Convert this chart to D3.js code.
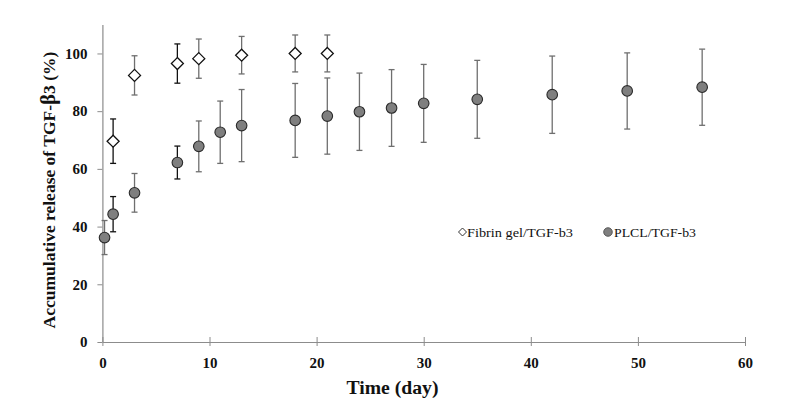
<!DOCTYPE html>
<html><head><meta charset="utf-8">
<script src="https://cdn.jsdelivr.net/npm/d3@7"></script>
<style>body{margin:0;background:#fff}svg{display:block}</style>
</head><body>
<script>
// Data
const fibrinDays = [1, 3, 7, 9, 13, 18, 21];
const fibrinMean = [69.6, 92.4, 96.5, 98.2, 99.4, 100, 100];
const fibrinErr  = [7.7, 6.8, 6.8, 6.8, 6.5, 6.4, 6.4];
const plclDays = [0.2, 1, 3, 7, 9, 11, 13, 18, 21, 24, 27, 30, 35, 42, 49, 56];
const plclMean = [36.2, 44.3, 51.7, 62.2, 67.8, 72.7, 75.0, 76.8, 78.3, 79.8, 81.1, 82.7, 84.1, 85.7, 87.0, 88.3];
const plclErr  = [5.9, 6.1, 6.7, 5.7, 8.8, 10.8, 12.5, 12.8, 13.2, 13.4, 13.3, 13.5, 13.5, 13.4, 13.2, 13.2];
const xTicks = [0, 10, 20, 30, 40, 50, 60];
const yTicks = [0, 20, 40, 60, 80, 100];
const seriesNames = ["Fibrin gel/TGF-b3", "PLCL/TGF-b3"];

const W = 802, H = 412;
const svg = d3.select("body").append("svg").attr("width", W).attr("height", H);
const x = d3.scaleLinear().domain([0, 60]).range([102.4, 745]);
const y = d3.scaleLinear().domain([0, 110]).range([342, 24.6]);
const axisColor = "#8c8c8c";
const font = "'Liberation Serif','Times New Roman',serif";

// Axes
const gx = svg.append("g").attr("transform", `translate(0,${y(0)})`)
  .call(d3.axisBottom(x).tickValues(xTicks).tickSize(5).tickSizeOuter(0).tickPadding(10));
const gy = svg.append("g").attr("transform", `translate(${x(0)},0)`)
  .call(d3.axisLeft(y).tickValues(yTicks).tickSize(5).tickSizeOuter(0).tickPadding(10));
[gx, gy].forEach(g => {
  g.select(".domain").attr("stroke", axisColor).attr("stroke-width", 1.2);
  g.selectAll(".tick line").attr("stroke", axisColor);
  g.selectAll(".tick text").attr("fill", "#111").style("font-family", font)
    .style("font-weight", "bold").style("font-size", "15px");
});
gx.selectAll(".tick line").attr("y1", -5).attr("y2", 4);

// Titles
svg.append("text").attr("x", 392.5).attr("y", 394).attr("text-anchor", "middle")
  .attr("textLength", 92).attr("lengthAdjust", "spacingAndGlyphs")
  .style("font-family", font).style("font-weight", "bold").style("font-size", "18px")
  .attr("fill", "#111").text("Time (day)");
svg.append("text").attr("transform", "translate(55,190) rotate(-90)").attr("text-anchor", "middle")
  .style("font-family", font).style("font-weight", "bold").style("font-size", "17.5px")
  .attr("fill", "#111")
  .html('Accumulative release of TGF-<tspan style="font-size:21px">β</tspan>3 (%)');

const darkDays = new Set([1, 7]);
function errorBars(days, mean, err) {
  const g = svg.append("g");
  days.forEach((d, i) => {
    const c = darkDays.has(d) ? "#111" : "#6f6f6f";
    const cx = x(d), y1 = y(mean[i] + err[i]), y2 = y(mean[i] - err[i]);
    g.append("line").attr("x1", cx).attr("x2", cx).attr("y1", y1).attr("y2", y2)
      .attr("stroke", c).attr("stroke-width", 1.3);
    [y1, y2].forEach(yy => g.append("line").attr("x1", cx - 3).attr("x2", cx + 3)
      .attr("y1", yy).attr("y2", yy).attr("stroke", c).attr("stroke-width", 1.3));
  });
}
errorBars(plclDays, plclMean, plclErr);
errorBars(fibrinDays, fibrinMean, fibrinErr);

// PLCL circles
svg.append("g").selectAll("circle").data(plclDays).join("circle")
  .attr("cx", d => x(d)).attr("cy", (d, i) => y(plclMean[i])).attr("r", 5.3)
  .attr("fill", "#7f7f7f").attr("stroke", "#2a2a2a").attr("stroke-width", 1.1);

// Fibrin diamonds
const diamond = s => `M0,${-s}L${s},0L0,${s}L${-s},0Z`;
svg.append("g").selectAll("path").data(fibrinDays).join("path")
  .attr("transform", (d, i) => `translate(${x(d)},${y(fibrinMean[i])})`)
  .attr("d", diamond(6)).attr("fill", "#fff").attr("stroke", "#111").attr("stroke-width", 1.3);

// Legend
const lg = svg.append("g");
lg.append("path").attr("transform", "translate(462.5,232)").attr("d", diamond(4))
  .attr("fill", "#fff").attr("stroke", "#333").attr("stroke-width", 1);
lg.append("text").attr("x", 467).attr("y", 236.5).attr("textLength", 106).attr("lengthAdjust", "spacingAndGlyphs")
  .style("font-family", font).style("font-size", "13.5px")
  .attr("fill", "#111").text(seriesNames[0]);
lg.append("circle").attr("cx", 608).attr("cy", 232).attr("r", 4.3)
  .attr("fill", "#7f7f7f").attr("stroke", "#444").attr("stroke-width", 0.8);
lg.append("text").attr("x", 614).attr("y", 236.5).attr("textLength", 82).attr("lengthAdjust", "spacingAndGlyphs")
  .style("font-family", font).style("font-size", "13.5px")
  .attr("fill", "#111").text(seriesNames[1]);
</script>
</body></html>
